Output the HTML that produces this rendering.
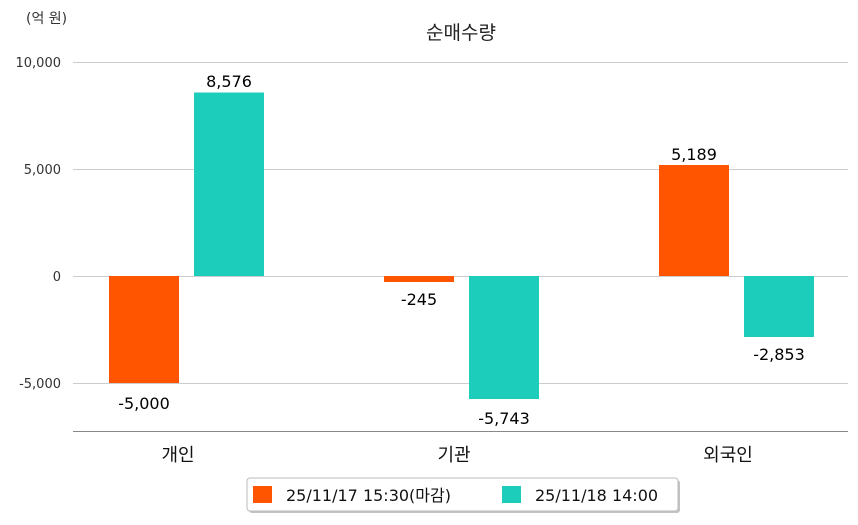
<!DOCTYPE html>
<html><head><meta charset="utf-8"><style>
body{margin:0;background:#fff;}
svg text{font-family:"DejaVu Sans","Noto Sans CJK KR",sans-serif;}
</style></head><body>
<svg width="858" height="520" xmlns="http://www.w3.org/2000/svg">
<rect width="858" height="520" fill="#fff"/>
<text x="26" y="23" font-size="14" fill="#333">(억 원)</text>
<text x="461" y="39" font-size="19" fill="#222" text-anchor="middle">순매수량</text>
<g stroke="#ccc" stroke-width="1">
<line x1="73" y1="62.5" x2="848" y2="62.5"/>
<line x1="73" y1="169.5" x2="848" y2="169.5"/>
<line x1="73" y1="276.5" x2="848" y2="276.5"/>
<line x1="73" y1="383.5" x2="848" y2="383.5"/>
</g>
<line x1="73" y1="431.5" x2="848" y2="431.5" stroke="#888"/>
<g font-size="13" fill="#333" text-anchor="end">
<text x="61" y="67">10,000</text>
<text x="61" y="174">5,000</text>
<text x="61" y="281">0</text>
<text x="61" y="388">-5,000</text>
</g>
<rect x="109" y="276" width="70" height="107" fill="#ff5500"/>
<rect x="194" y="92.5" width="70" height="183.5" fill="#1ccdbc"/>
<rect x="384" y="276" width="70" height="6" fill="#ff5500"/>
<rect x="469" y="276" width="70" height="123" fill="#1ccdbc"/>
<rect x="659" y="165" width="70" height="111" fill="#ff5500"/>
<rect x="744" y="276" width="70" height="61" fill="#1ccdbc"/>
<g font-size="16" fill="#000" text-anchor="middle">
<text x="144" y="409">-5,000</text>
<text x="229" y="87">8,576</text>
<text x="419" y="305">-245</text>
<text x="504" y="424">-5,743</text>
<text x="694" y="160">5,189</text>
<text x="779" y="360">-2,853</text>
</g>
<g font-size="18" fill="#111" text-anchor="middle">
<text x="178" y="461">개인</text>
<text x="454" y="461">기관</text>
<text x="728" y="461">외국인</text>
</g>
<rect x="249" y="480" width="431" height="33" rx="3" fill="#888" opacity="0.5"/>
<rect x="247" y="478" width="431" height="33" rx="3" fill="#fff" stroke="#bbb"/>
<rect x="253" y="486" width="19" height="17" fill="#ff5500"/>
<text x="286" y="501" font-size="16" fill="#111">25/11/17 15:30(마감)</text>
<rect x="502" y="486" width="19" height="17" fill="#1ccdbc"/>
<text x="535" y="501" font-size="16" fill="#111">25/11/18 14:00</text>
</svg>
</body></html>
